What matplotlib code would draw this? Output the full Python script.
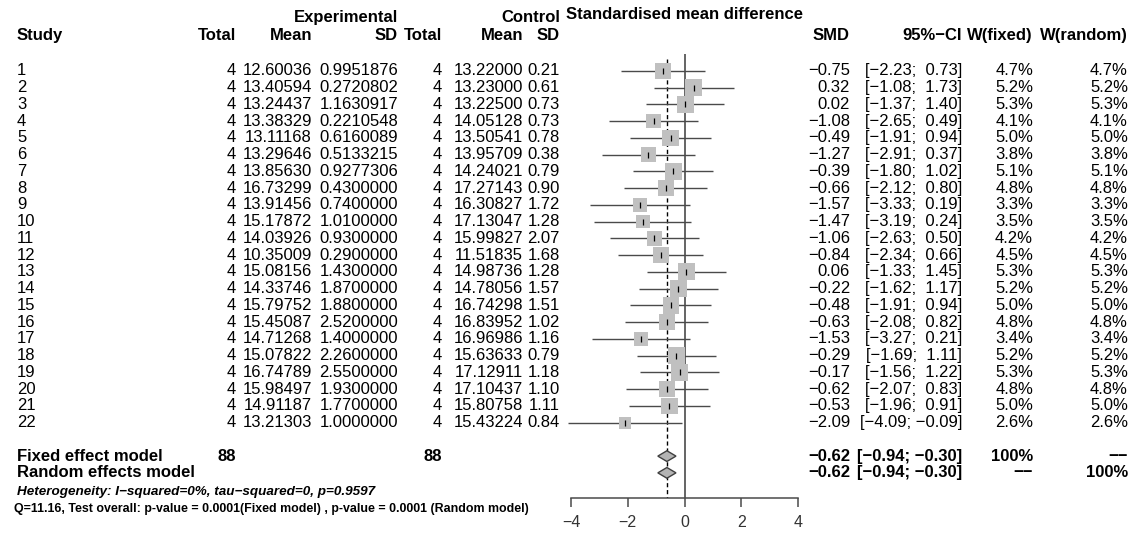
import matplotlib
matplotlib.use("Agg")
import matplotlib.pyplot as plt
import matplotlib.transforms as mtransforms
from matplotlib.patches import Polygon

plt.rcParams['font.family'] = ['Liberation Sans', 'DejaVu Sans']

# ---- data ----
studies = [str(i) for i in range(1, 23)]
exp_n = [4] * 22
exp_mean = [12.60036, 13.40594, 13.24437, 13.38329, 13.11168, 13.29646, 13.85630, 16.73299,
            13.91456, 15.17872, 14.03926, 10.35009, 15.08156, 14.33746, 15.79752, 15.45087,
            14.71268, 15.07822, 16.74789, 15.98497, 14.91187, 13.21303]
exp_sd = [0.9951876, 0.2720802, 1.1630917, 0.2210548, 0.6160089, 0.5133215, 0.9277306, 0.43,
          0.74, 1.01, 0.93, 0.29, 1.43, 1.87, 1.88, 2.52, 1.40, 2.26, 2.55, 1.93, 1.77, 1.00]
ctl_n = [4] * 22
ctl_mean = [13.22000, 13.23000, 13.22500, 14.05128, 13.50541, 13.95709, 14.24021, 17.27143,
            16.30827, 17.13047, 15.99827, 11.51835, 14.98736, 14.78056, 16.74298, 16.83952,
            16.96986, 15.63633, 17.12911, 17.10437, 15.80758, 15.43224]
ctl_sd = [0.21, 0.61, 0.73, 0.73, 0.78, 0.38, 0.79, 0.90, 1.72, 1.28, 2.07, 1.68, 1.28, 1.57,
          1.51, 1.02, 1.16, 0.79, 1.18, 1.10, 1.11, 0.84]
smd = [-0.75, 0.32, 0.02, -1.08, -0.49, -1.27, -0.39, -0.66, -1.57, -1.47, -1.06, -0.84,
       0.06, -0.22, -0.48, -0.63, -1.53, -0.29, -0.17, -0.62, -0.53, -2.09]
ci_lo = [-2.23, -1.08, -1.37, -2.65, -1.91, -2.91, -1.80, -2.12, -3.33, -3.19, -2.63, -2.34,
         -1.33, -1.62, -1.91, -2.08, -3.27, -1.69, -1.56, -2.07, -1.96, -4.09]
ci_hi = [0.73, 1.73, 1.40, 0.49, 0.94, 0.37, 1.02, 0.80, 0.19, 0.24, 0.50, 0.66,
         1.45, 1.17, 0.94, 0.82, 0.21, 1.11, 1.22, 0.83, 0.91, -0.09]
w_fixed = [4.7, 5.2, 5.3, 4.1, 5.0, 3.8, 5.1, 4.8, 3.3, 3.5, 4.2, 4.5,
           5.3, 5.2, 5.0, 4.8, 3.4, 5.2, 5.3, 4.8, 5.0, 2.6]
w_random = list(w_fixed)

pooled = -0.62
pooled_lo = -0.94
pooled_hi = -0.30
total_exp = 88
total_ctl = 88
x_ticks = [-4, -2, 0, 2, 4]

het_text = "Heterogeneity: I\u2212squared=0%, tau\u2212squared=0, p=0.9597"
q_text = "Q=11.16, Test overall: p-value = 0.0001(Fixed model) , p-value = 0.0001 (Random model)"
dash = "\u2212\u2212"

def m(s):
    return s.replace('-', '\u2212')

W, H = 1132, 540
fig = plt.figure(figsize=(W / 100, H / 100), dpi=100)
ax = fig.add_axes([571 / W, (H - 498) / H, 227 / W, (498 - 54) / H])
ax.set_xlim(-4, 4)
ax.set_ylim(26.5, 0)

rows = list(range(1, 23))
y_fixed, y_random = 24, 25

# CI lines, squares, point ticks
ax.hlines(rows, ci_lo, ci_hi, color='#4a4a4a', lw=1, zorder=2, clip_on=False)
sizes = [150 * w / 5.3 for w in w_fixed]
ax.scatter(smd, rows, s=sizes, marker='s', color='#c0c0c0', edgecolors='none', zorder=3, clip_on=False)
ax.scatter(smd, rows, s=20, marker='|', color='black', linewidths=0.9, zorder=4, clip_on=False)

# reference lines
ax.vlines(0, 0, 26.5, color='#4a4a4a', lw=1.2, zorder=1)
ax.vlines(pooled, 0.3, 26.5, color='black', lw=1, linestyles=(0, (3, 2)), zorder=1)

# diamonds
for yy in (y_fixed, y_random):
    ax.add_patch(Polygon([(pooled_lo, yy), (pooled, yy - 0.32), (pooled_hi, yy), (pooled, yy + 0.32)],
                         closed=True, facecolor='#b4b4b4', edgecolor='#404040', lw=1, zorder=3))

for side in ('left', 'right', 'top'):
    ax.spines[side].set_visible(False)
ax.spines['bottom'].set_color('#4a4a4a')
ax.spines['bottom'].set_linewidth(1.1)
ax.set_yticks([])
ax.set_xticks(x_ticks)
ax.set_xticklabels([m(str(t)) for t in x_ticks])
ax.tick_params(axis='x', direction='out', length=6.5, width=1.1, color='#4a4a4a', labelsize=11.5,
               labelcolor='#333333', pad=6)
ax.patch.set_visible(False)

tr = mtransforms.blended_transform_factory(fig.transFigure, ax.transData)
FS = 12

def put(xpx, y, s, ha='right', weight='normal', size=FS, style='normal'):
    fig.text(xpx / W, y, s, transform=tr, ha=ha, va='center', fontsize=size,
             fontweight=weight, fontstyle=style, color='black')

# column right edges (pixels)
c_study = 17
c_etot, c_emean, c_esd = 236, 312, 398
c_ctot, c_cmean, c_csd = 442, 523, 560
c_smd, c_ci, c_wf, c_wr = 850, 962, 1033, 1128

y_head1, y_head2 = -2.2, -1.1
put(c_esd, y_head1, "Experimental", weight='bold')
put(c_csd, y_head1, "Control", weight='bold')
put(684.5, y_head1 - 0.15, "Standardised mean difference", ha='center', weight='bold')
put(c_study, y_head2, "Study", ha='left', weight='bold')
for xp, s in [(c_etot, "Total"), (c_emean, "Mean"), (c_esd, "SD"), (c_ctot, "Total"),
              (c_cmean, "Mean"), (c_csd, "SD"), (c_smd, "SMD"), (c_ci, "95%\u2212CI"),
              (c_wf, "W(fixed)"), (c_wr, "W(random)")]:
    put(xp, y_head2, s, weight='bold')

for i, y in enumerate(rows):
    put(c_study, y, studies[i], ha='left')
    put(c_etot, y, str(exp_n[i]))
    put(c_emean, y, f"{exp_mean[i]:.5f}")
    put(c_esd, y, f"{exp_sd[i]:.7f}")
    put(c_ctot, y, str(ctl_n[i]))
    put(c_cmean, y, f"{ctl_mean[i]:.5f}")
    put(c_csd, y, f"{ctl_sd[i]:.2f}")
    put(c_smd, y, m(f"{smd[i]:.2f}"))
    put(c_ci, y, m(f"[{ci_lo[i]:5.2f}; {ci_hi[i]:5.2f}]"))
    put(c_wf, y, f"{w_fixed[i]:.1f}%")
    put(c_wr, y, f"{w_random[i]:.1f}%")

ci_pool = m(f"[{pooled_lo:5.2f}; {pooled_hi:5.2f}]")
put(c_study, y_fixed, "Fixed effect model", ha='left', weight='bold')
put(c_etot, y_fixed, str(total_exp), weight='bold')
put(c_ctot, y_fixed, str(total_ctl), weight='bold')
put(c_smd, y_fixed, m(f"{pooled:.2f}"), weight='bold')
put(c_ci, y_fixed, ci_pool, weight='bold')
put(c_wf, y_fixed, "100%", weight='bold')
put(c_wr, y_fixed, dash, weight='bold')

put(c_study, y_random, "Random effects model", ha='left', weight='bold')
put(c_smd, y_random, m(f"{pooled:.2f}"), weight='bold')
put(c_ci, y_random, ci_pool, weight='bold')
put(c_wf, y_random, dash, weight='bold')
put(c_wr, y_random, "100%", weight='bold')

put(c_study, 26.15, het_text, ha='left', weight='bold', size=9.7, style='italic')
put(14, 27.15, q_text, ha='left', weight='bold', size=8.9)

fig.savefig("out.png", dpi=100)
